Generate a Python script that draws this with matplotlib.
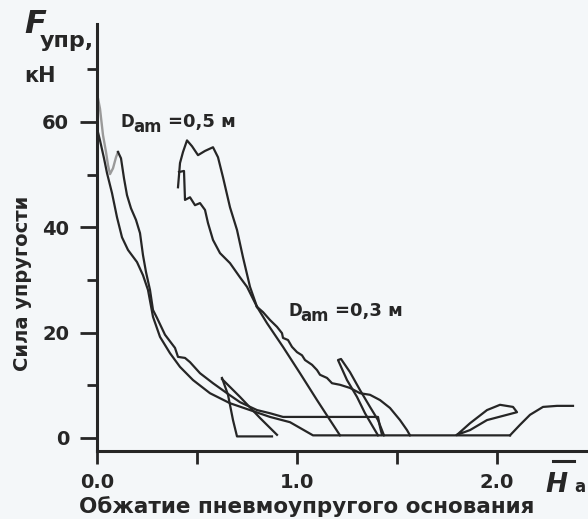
import matplotlib
matplotlib.use('Agg')
import matplotlib.pyplot as plt

# force vs. compression traces, read off as (H, F) pairs
# gray start of the first loop
gray_h = [0.0, 0.005, 0.015, 0.03, 0.045, 0.055, 0.065, 0.08, 0.095, 0.105]
gray_f = [62.0, 64.5, 62.5, 57.5, 54.3, 51.8, 50.1, 51.2, 53.3, 54.3]

# jagged branch that ends on the 4 kN shelf
jag1_h = [0.105, 0.12, 0.135, 0.15, 0.17, 0.195, 0.215, 0.23, 0.245, 0.265, 0.28, 0.3,
          0.34, 0.39, 0.405, 0.44, 0.465, 0.515, 0.58, 0.65, 0.715, 0.8, 0.865, 0.93,
          0.965, 1.405, 1.415, 1.425]
jag1_f = [54.3, 53.1, 49.3, 46.1, 43.6, 41.4, 38.9, 34.7, 31.5, 28.1, 24.3, 22.8,
          19.6, 17.1, 15.4, 15.2, 14.4, 12.3, 10.4, 8.5, 6.8, 5.3, 4.7, 4.0,
          4.0, 4.0, 2.1, 0.6]

# smooth branch going down to the base line
smooth1_h = [0.0, 0.015, 0.035, 0.05, 0.075, 0.1, 0.125, 0.155, 0.2, 0.23, 0.255, 0.28,
             0.315, 0.365, 0.415, 0.48, 0.565, 0.665, 0.765, 0.865, 0.965, 1.08, 2.065]
smooth1_f = [58.8, 56.5, 53.1, 50.3, 46.5, 41.9, 38.1, 35.7, 33.4, 30.9, 28.1, 23.0,
             19.2, 16.1, 13.5, 11.0, 8.5, 6.6, 5.3, 4.0, 3.0, 0.5, 0.5]

# small triangle near 0.6
tri1_h = [0.625, 0.655, 0.68, 0.70, 0.875]
tri1_f = [11.4, 8.2, 3.4, 0.3, 0.3]
tri2_h = [0.625, 0.715, 0.815, 0.9]
tri2_f = [11.2, 7.8, 3.8, 0.6]

# second loop, D = 0.5 m
outer_h = [0.405, 0.41, 0.415, 0.43, 0.45, 0.475, 0.505, 0.54, 0.58, 0.605, 0.63, 0.665,
           0.7, 0.73, 0.765, 0.8]
outer_f = [47.6, 49.9, 52.2, 54.3, 56.5, 55.4, 53.7, 54.5, 55.2, 53.3, 49.5, 43.8,
           39.5, 34.3, 28.7, 24.9]
inner_h = [0.41, 0.435, 0.44, 0.465, 0.49, 0.515, 0.54, 0.555, 0.58, 0.615, 0.665, 0.715,
           0.75, 0.8]
inner_f = [50.5, 50.7, 45.2, 45.7, 44.2, 44.6, 43.3, 40.8, 37.6, 35.1, 33.2, 30.5,
           28.7, 24.9]

jag2_h = [0.8, 0.83, 0.865, 0.9, 0.925, 0.93, 0.955, 0.975, 1.0, 1.025, 1.04, 1.075, 1.1,
          1.115, 1.15, 1.175, 1.215, 1.265, 1.315, 1.365, 1.415, 1.465, 1.515, 1.55, 1.565]
jag2_f = [24.9, 23.9, 22.4, 21.1, 19.9, 19.0, 18.6, 17.3, 16.3, 15.7, 14.8, 13.9, 12.9,
          12.0, 11.4, 10.4, 10.1, 9.5, 8.5, 8.2, 7.2, 5.7, 3.4, 1.5, 0.5]
smooth2_h = [0.8, 0.85, 0.93, 1.015, 1.1, 1.165, 1.215]
smooth2_f = [24.9, 21.8, 17.3, 12.3, 7.2, 3.4, 0.5]

# narrow loop near 1.2
narrow_h = [1.405, 1.38, 1.34, 1.3, 1.25, 1.205, 1.22, 1.265, 1.315, 1.365, 1.405, 1.435]
narrow_f = [0.5, 2.1, 4.7, 7.8, 11.0, 14.8, 15.0, 12.5, 9.1, 5.9, 3.4, 0.5]

# lens near 2.0 and the last rise
lens_h = [1.8, 1.865, 1.95, 2.015, 2.08, 2.1, 2.05, 1.95, 1.865, 1.8]
lens_f = [0.6, 2.8, 5.3, 6.3, 5.9, 4.9, 4.4, 3.4, 1.5, 0.6]
rise_h = [2.065, 2.115, 2.165, 2.23, 2.3, 2.38]
rise_f = [0.5, 2.5, 4.4, 5.9, 6.1, 6.1]

xticks = [0.0, 0.5, 1.0, 1.5, 2.0]
xticklabels = ['0.0', '', '1.0', '', '2.0']
yticks = [0, 20, 40, 60]
yminor = [10, 30, 50, 70]

plt.rcParams['font.family'] = ['DejaVu Sans']
plt.rcParams['font.weight'] = 'bold'

bg = '#f4f7f9'
ink = '#262626'
W, H = 588, 519

fig = plt.figure(figsize=(5.88, 5.19), dpi=100, facecolor=bg)
ax = fig.add_axes([97 / W, 1 - 451 / H, (588 - 97) / W, (451 - 24) / H])
ax.set_facecolor(bg)

ax.plot(gray_h, gray_f, color='#9a9a9a', lw=1.7)
for hx, fy_ in [(jag1_h, jag1_f), (smooth1_h, smooth1_f), (tri1_h, tri1_f), (tri2_h, tri2_f),
                (outer_h, outer_f), (inner_h, inner_f), (jag2_h, jag2_f),
                (smooth2_h, smooth2_f), (narrow_h, narrow_f), (lens_h, lens_f),
                (rise_h, rise_f)]:
    ax.plot(hx, fy_, color=ink, lw=1.6)

ax.set_xlim(0, 2.455)
ax.set_ylim(-2.47, 78.6)

for s in ['top', 'right']:
    ax.spines[s].set_visible(False)
for s in ['left', 'bottom']:
    ax.spines[s].set_linewidth(2.2)
    ax.spines[s].set_color(ink)

ax.set_xticks(xticks)
ax.set_xticklabels(xticklabels)
ax.set_yticks(yticks)
ax.set_yticks(yminor, minor=True)
ax.tick_params(axis='x', length=9, width=2, color=ink, pad=7, labelsize=14, labelcolor=ink)
ax.tick_params(axis='y', which='major', length=12, width=2, color=ink, pad=8,
               labelsize=14, labelcolor=ink)
ax.tick_params(axis='y', which='minor', length=7.5, width=2, color=ink)

def fx(px):
    return px / W

def fy(py):
    return 1 - py / H

# axis titles
fig.text(fx(23), fy(283), 'Сила упругости', rotation=90, ha='center', va='center',
         fontsize=14, color=ink)
fig.text(fx(307), fy(507), 'Обжатие пневмоупругого основания', ha='center', va='center',
         fontsize=15.5, color=ink)
fig.text(fx(24), fy(33), 'F', fontsize=23, style='italic', color=ink, va='baseline')
fig.text(fx(40), fy(47), 'упр,', fontsize=16, color=ink, va='baseline')
fig.text(fx(24), fy(82), 'кН', fontsize=15, color=ink, va='baseline')
fig.text(fx(545), fy(492), 'H', fontsize=19, style='italic', color=ink, va='baseline')
fig.text(fx(574), fy(492), 'a', fontsize=12, color=ink, va='baseline')

# bar over H, placed in axes fractions under the spine
bar_x = [(553 - 97) / 491, (574 - 97) / 491]
bar_y = [(451 - 461) / 427] * 2
ax.plot(bar_x, bar_y, color=ink, lw=2.2, transform=ax.transAxes, clip_on=False)

# diameter labels
def dlabel(h, f, val):
    ax.annotate('D', (h, f), fontsize=12, color=ink, va='baseline')
    ax.annotate('am', (h, f), xytext=(9, -3.5), textcoords='offset points',
                fontsize=12, color=ink, va='baseline')
    ax.annotate('=' + val + ' м', (h, f), xytext=(34, 0), textcoords='offset points',
                fontsize=13, color=ink, va='baseline')

dlabel(0.12, 59.0, '0,5')
dlabel(0.955, 23.1, '0,3')

fig.savefig('out.png', dpi=100, facecolor=bg)
